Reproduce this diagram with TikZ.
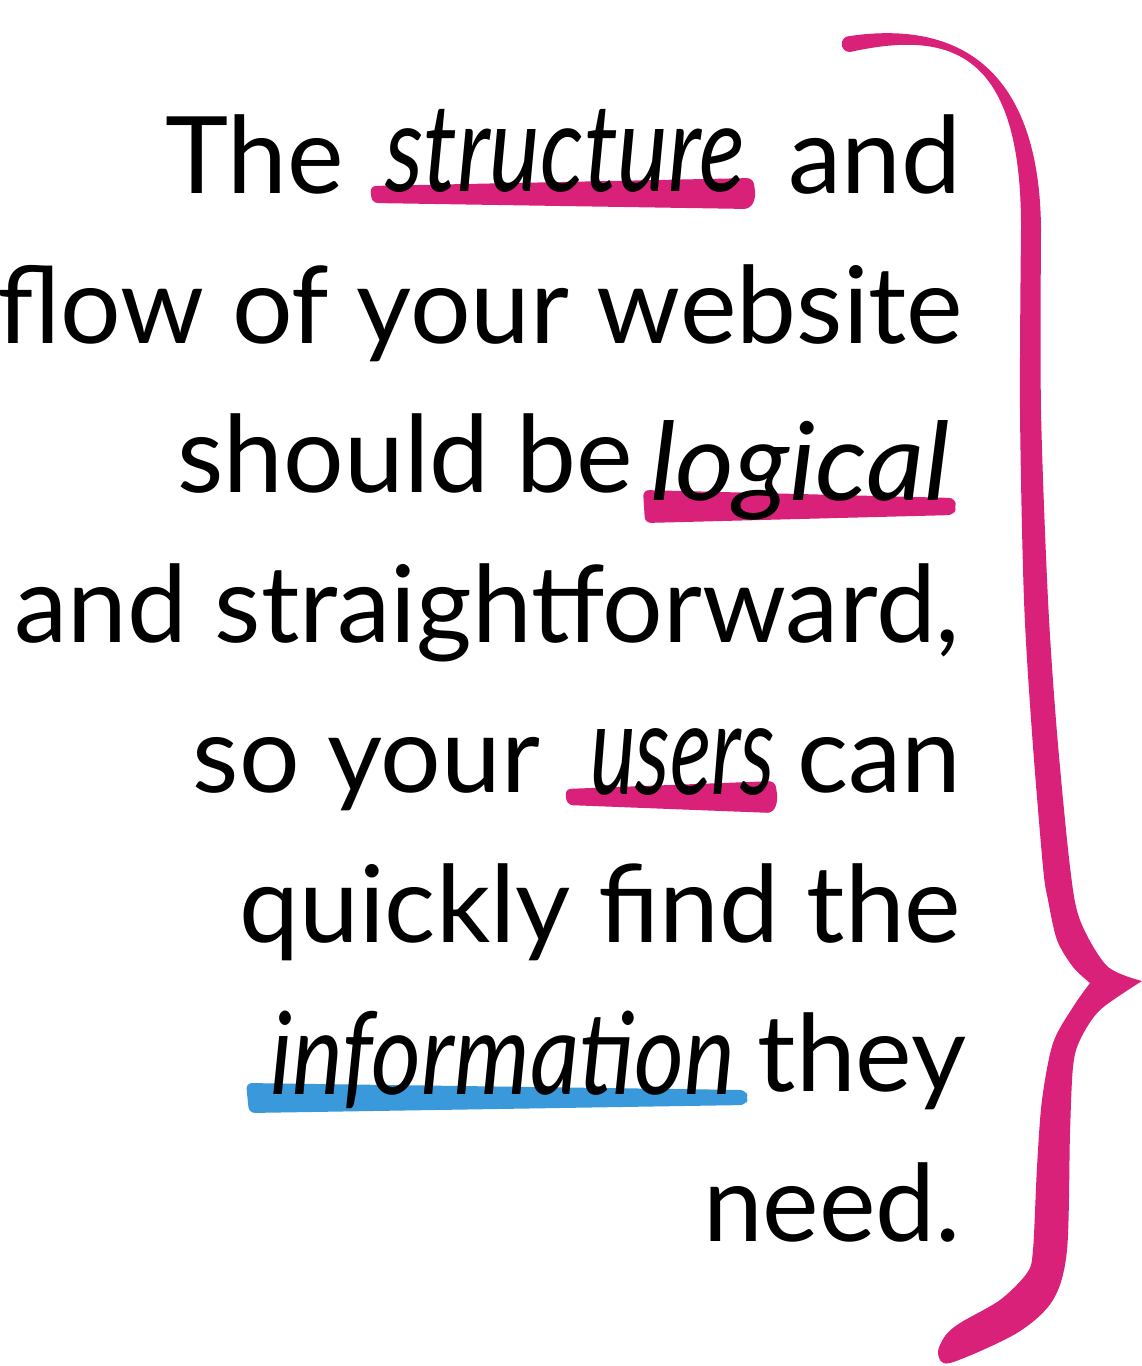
\documentclass[tikz,border=0pt]{standalone}
\usepackage{fontspec}
\setmainfont{Lato}
\usepackage{graphicx}
\definecolor{brandpink}{RGB}{217,33,121}
\definecolor{brandblue}{RGB}{58,153,218}
\newcommand\handword[3]{\resizebox{#1}{#2}{\itshape\smash{#3}\rule{0pt}{1ex}}}
\begin{document}
\begin{tikzpicture}[x=1pt,y=-1pt,
  txt/.style={font=\fontsize{107}{120}\selectfont, inner sep=0pt, outer sep=0pt, text=black},
  hand/.style={font=\fontsize{107}{120}\selectfont, inner sep=0pt, outer sep=0pt, text=black},
  hlband/.style={rounded corners=6pt}]
\useasboundingbox (0,0) rectangle (1142,1366);
% highlights
\fill[brandpink, hlband] (370,186) -- (753,178) -- (756,197) -- (750,209) -- (372,203) -- cycle;
\fill[brandpink, hlband] (643,490) -- (955,498) -- (956,508) -- (954,515) -- (645,523) -- cycle;
\fill[brandpink, hlband] (565,789) -- (775,781) -- (778,800) -- (773,813) -- (567,805) -- cycle;
\fill[brandblue, hlband] (246,1083) -- (746,1090) -- (748,1098) -- (746,1105) -- (249,1113) -- cycle;
% line 1
\node[txt, anchor=base west] (the) at (165,193) {The};
\node[hand, anchor=base west] (structure) at (385,191) {\handword{360pt}{62pt}{structure}};
\node[txt, anchor=base east] (and1) at (961,193) {and};
% line 2
\node[txt, anchor=base east] (flow) at (963,343) {flow of your website};
% line 3
\node[txt, anchor=base east] (should) at (633,492) {should be};
\node[hand, anchor=base west] (logical) at (650,500) {\handword{300pt}{55pt}{logical}};
% line 4
\node[txt, anchor=base east] (straight) at (960,642) {and straightforward,};
% line 5
\node[txt, anchor=base east] (soyour) at (540,792) {so your};
\node[hand, anchor=base west] (users) at (590,794) {\handword{185pt}{65pt}{users}};
\node[txt, anchor=base east] (can) at (961,792) {can};
% line 6
\node[txt, anchor=base east] (quickly) at (961,942) {quickly find the};
% line 7
\node[hand, anchor=base west] (information) at (270,1094) {\handword{465pt}{58pt}{information}};
\node[txt, anchor=base east] (they) at (966,1091) {they};
% line 8
\node[txt, anchor=base east] (need) at (961,1241) {need.};
% brace
\fill[brandpink]
  (850,52) .. controls (839,52) and (839,36) .. (850,36)
  .. controls (960,20) and (1040,70) .. (1041,230)
  -- plot[smooth] coordinates {(1041,230) (1041,410) (1048,600) (1057,733) (1070,867) (1080,920) (1107,966) (1142,981)}
  -- plot[smooth] coordinates {(1142,981) (1100,1010) (1080,1040) (1073,1067) (1070,1133) (1067,1250) (1053,1300) (1017,1333) (950,1363) (938,1353) (945,1336) (960,1323) (1000,1300) (1027,1273) (1033,1250) (1037,1167) (1042,1100) (1053,1043) (1073,1007) (1090,983)}
  -- plot[smooth] coordinates {(1090,983) (1073,967) (1057,940) (1048,900) (1043,867) (1032,733) (1024,600) (1020,410) (1021,230)}
  .. controls (1022,50) and (950,30) .. (850,52)
  -- cycle;
\end{tikzpicture}
\end{document}
